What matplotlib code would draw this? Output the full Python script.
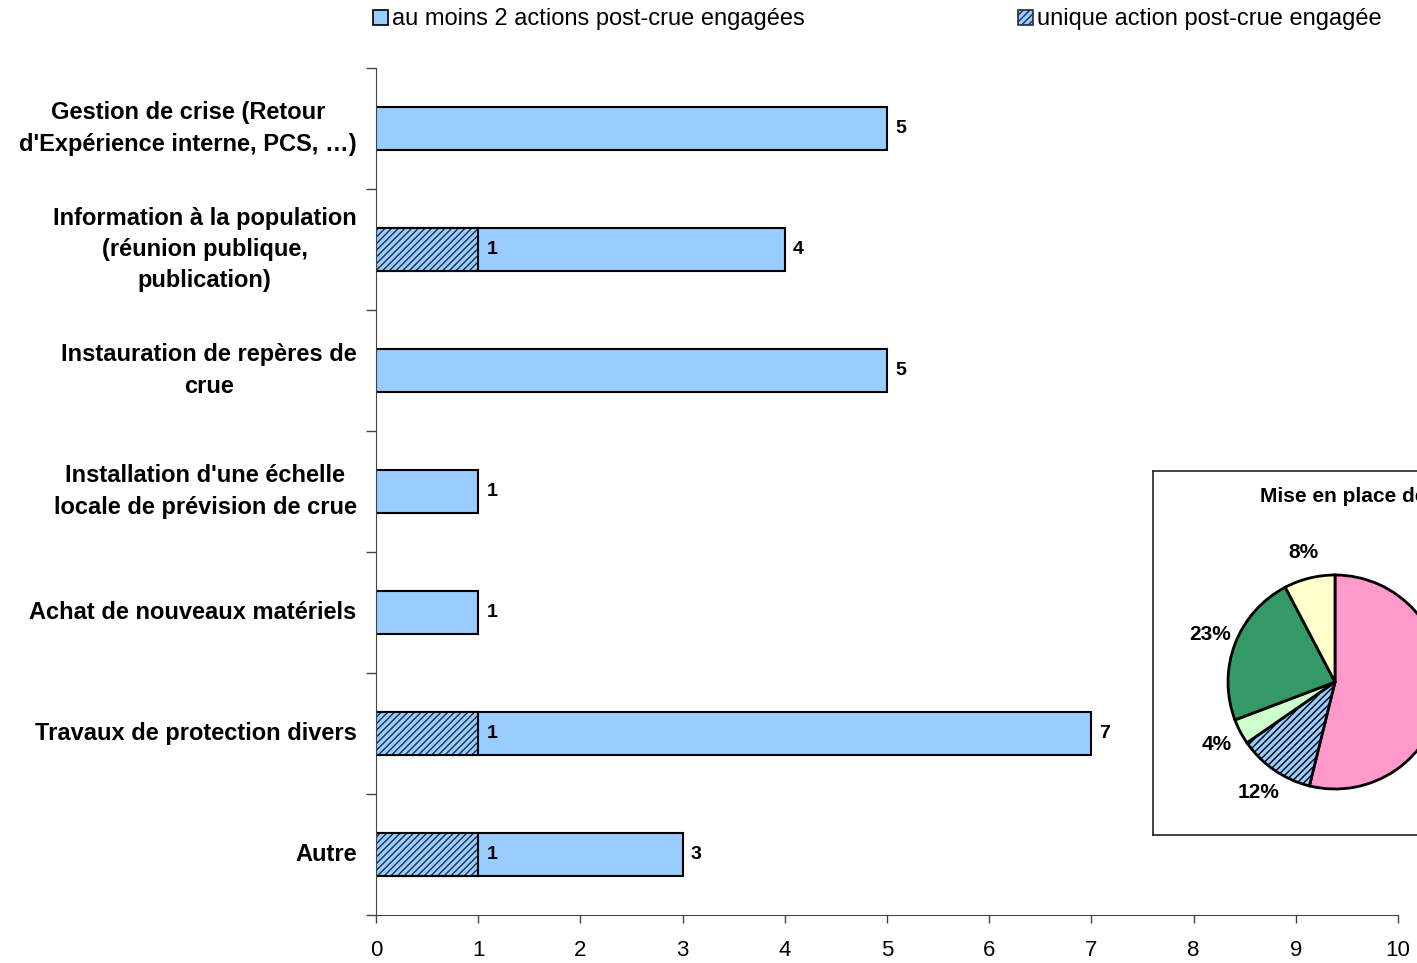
import matplotlib
matplotlib.use("Agg")
import matplotlib.pyplot as plt
from matplotlib.patches import Patch
import numpy as np

plt.rcParams['font.family'] = ['Liberation Sans', 'DejaVu Sans']
plt.rcParams['hatch.linewidth'] = 1.0

# données
categories = [
    "Gestion de crise (Retour\nd'Expérience interne, PCS, …)",
    "Information à la population\n(réunion publique,\npublication)",
    "Instauration de repères de\ncrue",
    "Installation d'une échelle\nlocale de prévision de crue",
    "Achat de nouveaux matériels",
    "Travaux de protection divers",
    "Autre",
]
au_moins_deux = [5, 4, 5, 1, 1, 7, 3]
unique_action = [0, 1, 0, 0, 0, 1, 1]

pie_counts = [14, 3, 1, 6, 2]
pie_colors = ['#FF99CC', '#99CCFF', '#CCFFCC', '#339966', '#FFFFCC']
pie_hatches = ['', '/////', '', '', '']

BLUE = '#99CCFF'

fig = plt.figure(figsize=(14.17, 9.63), dpi=100)
ax = fig.add_axes([376 / 1417, 48 / 963, (1398 - 376) / 1417, (915 - 68) / 963])

y = np.arange(len(categories))[::-1]
ax.barh(y, au_moins_deux, height=0.36, color=BLUE, edgecolor='black', linewidth=1.5)
uni = np.array(unique_action)
mask = uni > 0
ax.barh(y[mask], uni[mask], height=0.36, color=BLUE, edgecolor='#1F2F44',
        hatch='/////', linewidth=0)
ax.barh(y[mask], uni[mask], height=0.36, color='none', edgecolor='black', linewidth=1.5)

# étiquettes de valeurs
for yi, v in zip(y, au_moins_deux):
    ax.text(v + 0.08, yi, str(v), va='center', ha='left', fontsize=14, fontweight='bold')
for yi, v in zip(y[mask], uni[mask]):
    ax.text(v + 0.08, yi, str(v), va='center', ha='left', fontsize=14, fontweight='bold')

ax.set_xlim(0, 10)
ax.set_ylim(-0.5, len(categories) - 0.5)
ax.set_xticks(range(11))
ax.tick_params(axis='x', labelsize=16, length=6, width=1, color='#444444', pad=12)
ax.set_yticks(y)
ax.set_yticklabels(categories, fontsize=17, fontweight='bold', multialignment='center',
                   linespacing=1.45, va='center')
ax.tick_params(axis='y', which='major', length=0, pad=14)
ax.set_yticks(np.arange(-0.5, len(categories), 1), minor=True)
ax.tick_params(axis='y', which='minor', length=7, width=1, color='#444444')
ax.spines['top'].set_visible(False)
ax.spines['right'].set_visible(False)
ax.spines['left'].set_color('#444444')
ax.spines['bottom'].set_color('#444444')

# légende
h1 = Patch(facecolor=BLUE, edgecolor='black', linewidth=1.2)
h2 = Patch(facecolor=BLUE, edgecolor='#1F2F44', hatch='/////', linewidth=1.2)
leg_kw = dict(loc='upper left', frameon=False, fontsize=17, handlelength=0.6,
              handleheight=0.6, handletextpad=0.2, borderaxespad=0)
fig.legend([h1], ['au moins 2 actions post-crue engagées'],
           bbox_to_anchor=(364 / 1417, 1 + 1 / 963), **leg_kw)
fig.legend([h2], ['unique action post-crue engagée'],
           bbox_to_anchor=(1009 / 1417, 1 + 1 / 963), **leg_kw)

# camembert en encart (coordonnées en pixels, y vers le haut)
pax = fig.add_axes([1153 / 1417, (963 - 835) / 963, 440 / 1417, 364 / 963])
wedges, texts, autotexts = pax.pie(
    pie_counts, colors=pie_colors, startangle=90, counterclock=False,
    center=(1335, 963 - 682), radius=107, autopct='%1.0f%%', pctdistance=1.25,
    wedgeprops=dict(edgecolor='black', linewidth=2),
    textprops=dict(fontsize=15, fontweight='bold'), frame=True)
for w, h in zip(wedges, pie_hatches):
    if h:
        w.set_hatch(h)
# le pourcentage de la part rose tombe hors de l'image
autotexts[0].set_visible(False)
pax.set_xlim(1153, 1593)
pax.set_ylim(963 - 835, 963 - 471)
pax.set_aspect('auto')
pax.set_xticks([])
pax.set_yticks([])
for s in pax.spines.values():
    s.set_linewidth(1.2)
    s.set_color('#222222')
pax.text(1260, 963 - 497, "Mise en place des actions", ha='left', va='center',
         fontsize=15, fontweight='bold', clip_on=True)

fig.savefig('out.png', dpi=100)
